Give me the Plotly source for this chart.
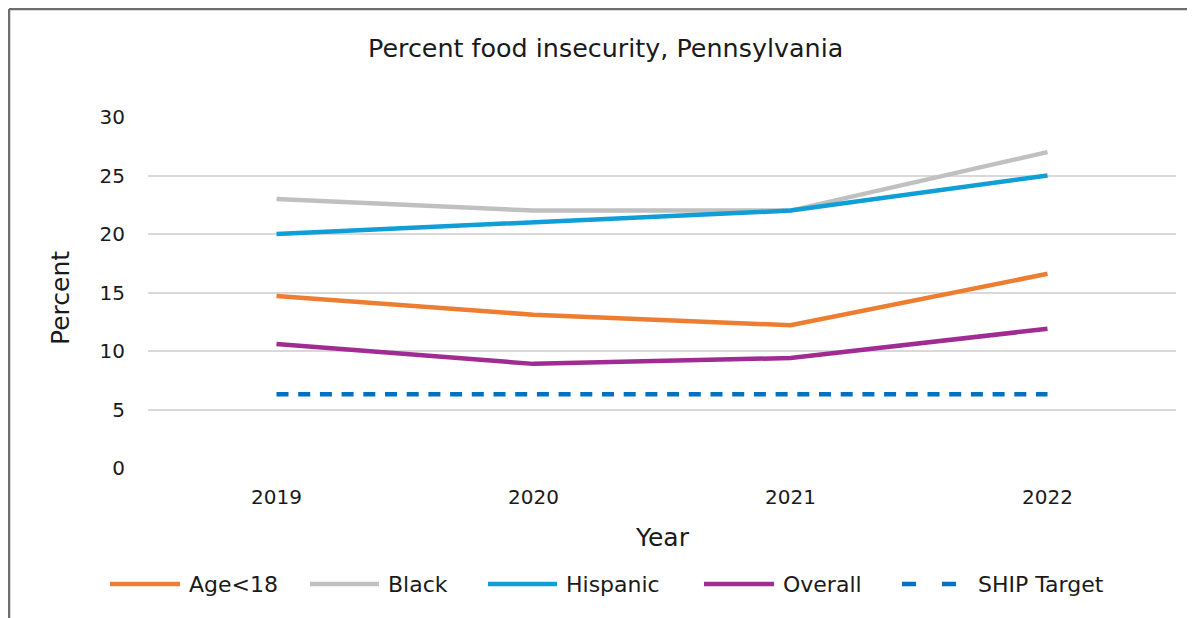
import plotly.graph_objects as go

years = ["2019", "2020", "2021", "2022"]
age_under18 = [14.7, 13.1, 12.2, 16.6]
black = [23.0, 22.0, 22.0, 27.0]
hispanic = [20.0, 21.0, 22.0, 25.0]
overall = [10.6, 8.9, 9.4, 11.9]
ship_target = [6.3, 6.3, 6.3, 6.3]
y_ticks = [0, 5, 10, 15, 20, 25, 30]

series_names = ["Age<18", "Black", "Hispanic", "Overall", "SHIP Target"]
series_values = [age_under18, black, hispanic, overall, ship_target]
colors = ["#ED7D31", "#C0C0C0", "#0F9ED5", "#A02B93", "#0070C0"]
dashes = ["solid", "solid", "solid", "solid", "12px,9.7px"]

OFF = 8  # page body margin
W, H = 1195 - OFF, 618 - OFF
L, R, T, B = 140, 19, 109, 150
pw, ph = W - L - R, H - T - B

def px(x):  # page x -> paper
    return (x - OFF - L) / pw

def py(y):  # page y -> paper
    return (H - B - (y - OFF)) / ph

FONT = "DejaVu Sans"
TXT = "#1a1a1a"

fig = go.Figure()
for name, vals, c, d in zip(series_names, series_values, colors, dashes):
    fig.add_trace(go.Scatter(x=years, y=vals, mode="lines", name=name,
                             line=dict(color=c, width=4.5, dash=d),
                             showlegend=False))

shapes = []
annotations = []
# outer chart border (left and top edges visible)
shapes.append(dict(type="line", xref="paper", yref="paper",
                   x0=px(9), x1=px(1200), y0=py(9), y1=py(9),
                   line=dict(color="#6e6e6e", width=2.5), layer="below"))
shapes.append(dict(type="line", xref="paper", yref="paper",
                   x0=px(9), x1=px(9), y0=py(9), y1=py(625),
                   line=dict(color="#6e6e6e", width=2.5), layer="below"))

# custom legend
leg_line_x = [(110, 180), (310, 379), (488, 557), (704, 774), (902, 957)]
leg_text_x = [187, 386, 564, 781, 976]
leg_y = 584
for i, name in enumerate(series_names):
    x0, x1 = leg_line_x[i]
    shapes.append(dict(type="line", xref="paper", yref="paper",
                       x0=px(x0), x1=px(x1), y0=py(leg_y), y1=py(leg_y),
                       line=dict(color=colors[i], width=4.5,
                                 dash="solid" if dashes[i] == "solid" else "14px,26px")))
    annotations.append(dict(text=name, xref="paper", yref="paper",
                            x=px(leg_text_x[i]), y=py(leg_y), xanchor="left", yanchor="middle",
                            showarrow=False,
                            font=dict(family=FONT, size=22, color=TXT)))

# titles
annotations.append(dict(text="Percent food insecurity, Pennsylvania", xref="paper", yref="paper",
                        x=px(605), y=py(48), xanchor="center", yanchor="middle", showarrow=False,
                        font=dict(family=FONT, size=25.4, color=TXT)))
annotations.append(dict(text="Year", xref="paper", yref="paper",
                        x=px(662), y=py(537), xanchor="center", yanchor="middle", showarrow=False,
                        font=dict(family=FONT, size=25, color=TXT)))
annotations.append(dict(text="Percent", xref="paper", yref="paper", textangle=-90,
                        x=px(60), y=py(298), xanchor="center", yanchor="middle", showarrow=False,
                        font=dict(family=FONT, size=25, color=TXT)))

fig.update_layout(
    width=W, height=H,
    margin=dict(l=L, r=R, t=T, b=B),
    paper_bgcolor="white", plot_bgcolor="white",
    shapes=shapes, annotations=annotations,
    font=dict(family=FONT, size=20, color=TXT),
)
fig.update_xaxes(type="category", range=[-0.5, 3.5], showgrid=False, showline=False,
                 ticks="", tickfont=dict(size=20, color=TXT), ticklabelstandoff=15)
fig.update_yaxes(range=[0, 30], tickvals=y_ticks, showgrid=True, gridcolor="#D9D9D9",
                 gridwidth=1.5, zeroline=False, showline=False, ticks="",
                 tickfont=dict(size=20, color=TXT), ticklabelstandoff=22)

fig.write_html("out.html")
